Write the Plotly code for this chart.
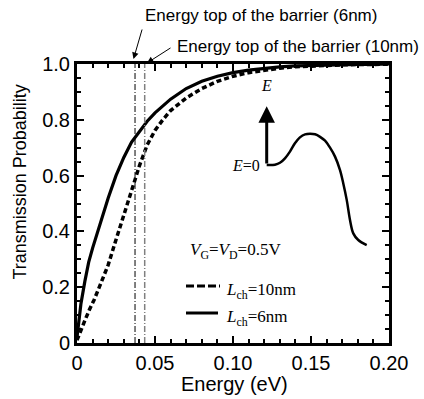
import plotly.graph_objects as go

# ---------------- data ----------------
energy_6nm = [0, 0.001, 0.0025, 0.005, 0.0075, 0.01, 0.015, 0.02, 0.025, 0.03, 0.035,
              0.04, 0.045, 0.05, 0.06, 0.07, 0.08, 0.09, 0.10, 0.11, 0.12, 0.13, 0.14,
              0.15, 0.16, 0.17, 0.18, 0.19, 0.20]
trans_6nm = [0.02, 0.07, 0.14, 0.22, 0.29, 0.34, 0.43, 0.52, 0.60, 0.665, 0.72,
             0.76, 0.795, 0.825, 0.874, 0.912, 0.938, 0.956, 0.969, 0.978, 0.985, 0.990, 0.993,
             0.995, 0.997, 0.998, 0.999, 0.999, 1.0]

energy_10nm = [0, 0.002, 0.005, 0.008, 0.011, 0.015, 0.02, 0.025, 0.03, 0.035, 0.04,
               0.045, 0.05, 0.055, 0.06, 0.07, 0.08, 0.09, 0.10, 0.11, 0.12, 0.13, 0.14,
               0.15, 0.16, 0.17, 0.18, 0.19, 0.20]
trans_10nm = [0.01, 0.04, 0.08, 0.12, 0.155, 0.21, 0.28, 0.37, 0.46, 0.545, 0.635,
              0.71, 0.762, 0.80, 0.833, 0.878, 0.912, 0.938, 0.956, 0.969, 0.978, 0.985, 0.990,
              0.993, 0.995, 0.997, 0.998, 0.999, 0.999]

barrier_top_6nm = 0.0372
barrier_top_10nm = 0.0434

# inset: schematic band profile (drawn in main-axis units)
inset_x = [0.1216, 0.1269, 0.1301, 0.1333, 0.1365, 0.1397, 0.1429, 0.1462, 0.1494, 0.1526,
           0.1558, 0.1590, 0.1622, 0.1654, 0.1686, 0.1707, 0.1729, 0.1750, 0.1771, 0.1803, 0.1857]
inset_y = [0.638, 0.639, 0.646, 0.662, 0.686, 0.716, 0.737, 0.748, 0.750, 0.748,
           0.739, 0.725, 0.700, 0.668, 0.620, 0.572, 0.513, 0.441, 0.393, 0.369, 0.351]
inset_arrow_top = 0.849

x_tick_vals = [0, 0.05, 0.10, 0.15, 0.20]
x_tick_text = ["0", "0.05", "0.10", "0.15", "0.20"]
y_tick_vals = [0, 0.2, 0.4, 0.6, 0.8, 1.0]
y_tick_text = ["0", "0.2", "0.4", "0.6", "0.8", "1.0"]

# ---------------- layout geometry ----------------
W, H = 424, 399
ML, MR, MT, MB = 77, 35, 64, 56
PW = W - ML - MR
PH = H - MT - MB

def px_x(p):
    return (p - ML) / PW

def px_y(p):
    return (H - MB - p) / PH

SANS = "Liberation Sans, Arial, sans-serif"
SERIF = "Liberation Serif, Times New Roman, serif"

fig = go.Figure()

fig.add_trace(go.Scatter(x=energy_10nm, y=trans_10nm, mode="lines",
                         line=dict(color="black", width=3.5, dash="5px,3px"),
                         showlegend=False, hoverinfo="skip"))
fig.add_trace(go.Scatter(x=energy_6nm, y=trans_6nm, mode="lines",
                         line=dict(color="black", width=3.2),
                         showlegend=False, hoverinfo="skip"))
fig.add_trace(go.Scatter(x=inset_x, y=inset_y, mode="lines", line_shape="spline",
                         line=dict(color="black", width=2.5),
                         showlegend=False, hoverinfo="skip"))

shapes = [
    dict(type="line", xref="x", yref="paper", x0=barrier_top_6nm, x1=barrier_top_6nm,
         y0=0, y1=1, line=dict(color="black", width=1, dash="6px,2px,1px,2px")),
    dict(type="line", xref="x", yref="paper", x0=barrier_top_10nm, x1=barrier_top_10nm,
         y0=0, y1=1, line=dict(color="#808080", width=1.5, dash="6px,2px,1px,2px")),
    # legend samples
    dict(type="line", xref="paper", yref="paper", x0=px_x(186), x1=px_x(220),
         y0=px_y(286), y1=px_y(286), line=dict(color="black", width=3, dash="8px,3px")),
    dict(type="line", xref="paper", yref="paper", x0=px_x(186), x1=px_x(218),
         y0=px_y(313), y1=px_y(313), line=dict(color="black", width=3)),
]

annotations = [
    # top labels
    dict(xref="paper", yref="paper", x=px_x(379), y=px_y(15), xanchor="right", yanchor="middle",
         text="Energy top of the barrier (6nm)", showarrow=False,
         font=dict(family=SANS, size=17, color="black")),
    dict(xref="paper", yref="paper", x=px_x(421), y=px_y(47), xanchor="right", yanchor="middle",
         text="Energy top of the barrier (10nm)", showarrow=False,
         font=dict(family=SANS, size=17, color="black")),
    dict(xref="paper", yref="paper", x=px_x(133.5), y=px_y(59), text="", showarrow=True,
         ax=9, ay=-31, arrowhead=2, arrowsize=1.3, arrowwidth=1, arrowcolor="black"),
    dict(xref="paper", yref="paper", x=px_x(147), y=px_y(63), text="", showarrow=True,
         ax=25, ay=-16, arrowhead=2, arrowsize=1.3, arrowwidth=1, arrowcolor="black"),
    # axis titles
    dict(xref="paper", yref="paper", x=px_x(234), y=px_y(384), xanchor="center", yanchor="middle",
         text="Energy (eV)", showarrow=False, font=dict(family=SANS, size=20, color="black")),
    dict(xref="paper", yref="paper", x=px_x(20), y=0.575, xanchor="center", yanchor="middle",
         text="Transmission Probability", textangle=-90, showarrow=False,
         font=dict(family=SANS, size=18, color="black")),
    # inset
    dict(xref="x", yref="y", x=inset_x[0], y=inset_arrow_top, ax=inset_x[0], ay=inset_y[0],
         axref="x", ayref="y", text="", showarrow=True, arrowhead=2, arrowsize=1.1,
         arrowwidth=3, arrowcolor="black"),
    dict(xref="x", yref="y", x=inset_x[0], y=inset_arrow_top, yshift=10, xanchor="center",
         yanchor="bottom", text="<i>E</i>", showarrow=False,
         font=dict(family=SERIF, size=16, color="black")),
    dict(xref="x", yref="y", x=inset_x[0], y=inset_y[0], xshift=-5, xanchor="right",
         yanchor="middle", text="<i>E</i>=0", showarrow=False,
         font=dict(family=SERIF, size=16, color="black")),
    # conditions / legend text
    dict(xref="paper", yref="paper", x=px_x(188), y=px_y(251), xanchor="left", yanchor="middle",
         text="<i>V</i><sub>G</sub>=<i>V</i><sub>D</sub>=0.5V", showarrow=False,
         font=dict(family=SERIF, size=17, color="black")),
    dict(xref="paper", yref="paper", x=px_x(224), y=px_y(291), xanchor="left", yanchor="middle",
         text="<i>L</i><sub>ch</sub>=10nm", showarrow=False,
         font=dict(family=SERIF, size=17, color="black")),
    dict(xref="paper", yref="paper", x=px_x(224), y=px_y(318), xanchor="left", yanchor="middle",
         text="<i>L</i><sub>ch</sub>=6nm", showarrow=False,
         font=dict(family=SERIF, size=17, color="black")),
]

fig.update_layout(
    width=W, height=H,
    margin=dict(l=ML, r=MR, t=MT, b=MB, pad=0),
    paper_bgcolor="white", plot_bgcolor="white",
    shapes=shapes, annotations=annotations,
    hovermode=False,
    xaxis=dict(range=[0, 0.2], tickvals=x_tick_vals, ticktext=x_tick_text,
               showline=True, linewidth=3, linecolor="black", mirror="ticks",
               ticks="inside", ticklen=7, tickwidth=2, tickcolor="black",
               showgrid=False, zeroline=False,
               tickfont=dict(family=SANS, size=20, color="black"),
               minor=dict(dtick=0.01, ticks="inside", ticklen=4, tickwidth=2,
                          tickcolor="black", showgrid=False)),
    yaxis=dict(range=[0, 1], tickvals=y_tick_vals, ticktext=y_tick_text,
               showline=True, linewidth=3, linecolor="black", mirror="ticks",
               ticks="inside", ticklen=7, tickwidth=2, tickcolor="black",
               showgrid=False, zeroline=False,
               tickfont=dict(family=SANS, size=20, color="black"),
               minor=dict(dtick=0.05, ticks="inside", ticklen=4, tickwidth=2,
                          tickcolor="black", showgrid=False)),
)

fig.write_html("out.html", config={"displayModeBar": False},
               post_script="document.body.style.margin='0';document.body.style.padding='0';")
